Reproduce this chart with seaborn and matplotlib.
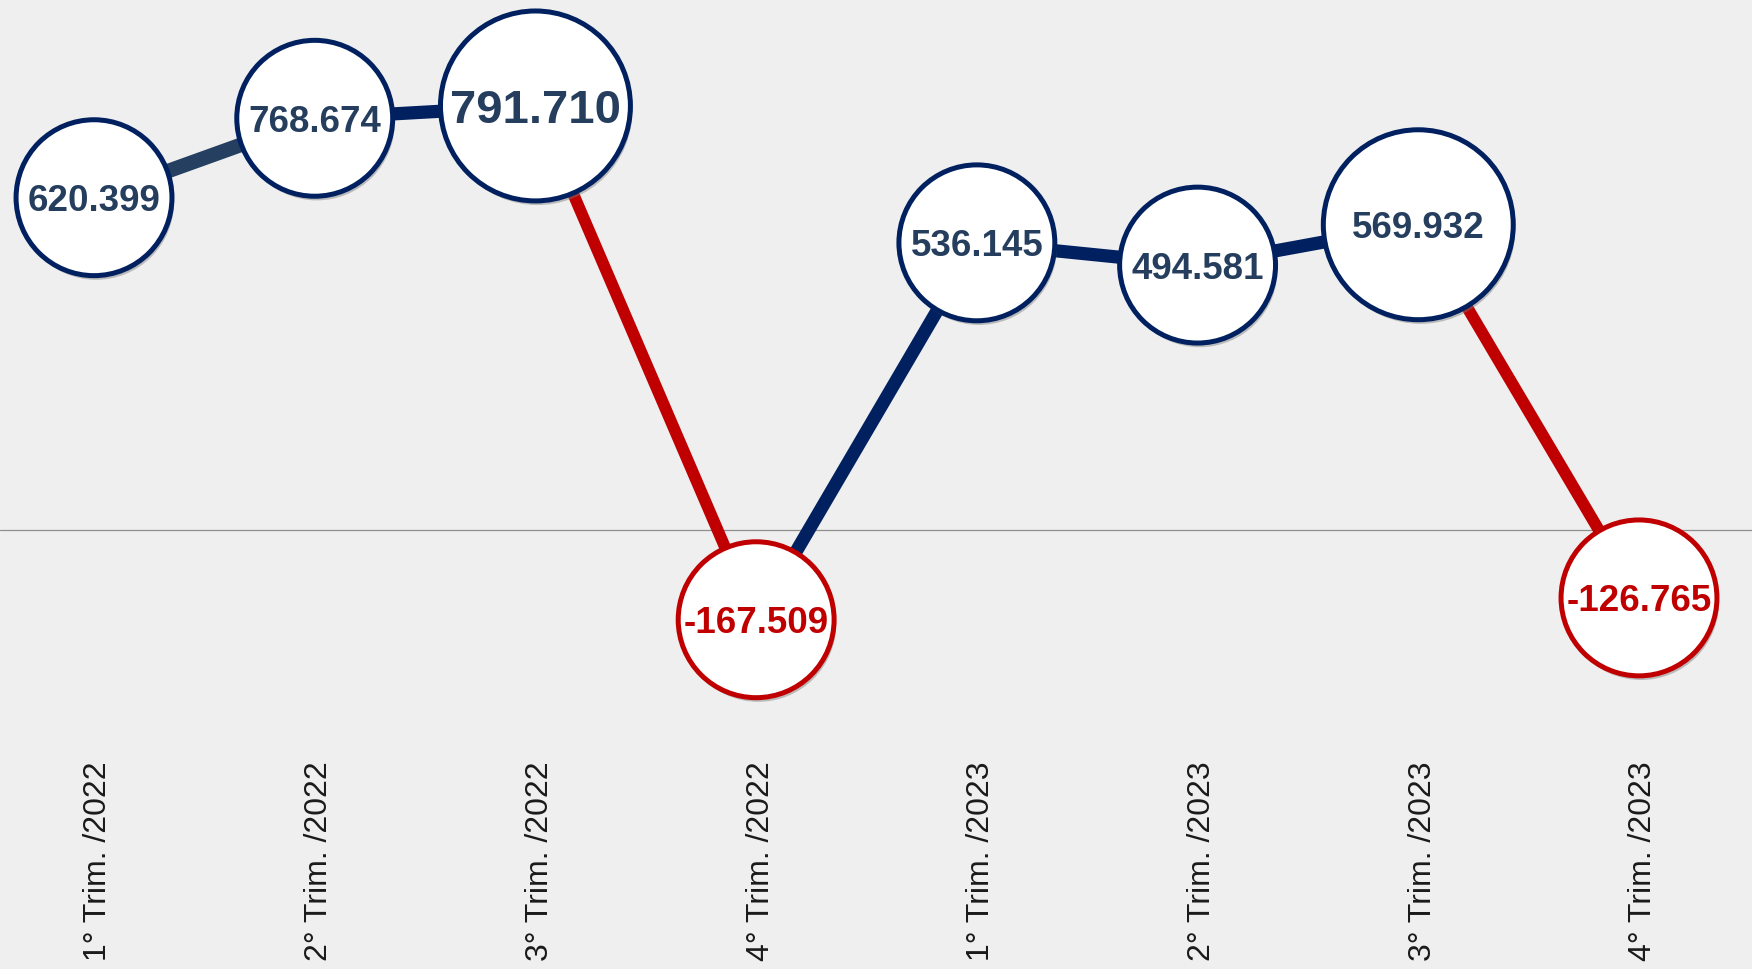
import matplotlib
matplotlib.use("Agg")
import matplotlib.pyplot as plt
import matplotlib.transforms as mtransforms
import seaborn as sns
import pandas as pd

# Dados (valores trimestrais)
trimestres = ["1° Trim. /2022", "2° Trim. /2022", "3° Trim. /2022", "4° Trim. /2022",
              "1° Trim. /2023", "2° Trim. /2023", "3° Trim. /2023", "4° Trim. /2023"]
valores = [620.399, 768.674, 791.710, -167.509, 536.145, 494.581, 569.932, -126.765]
rotulos = ["620.399", "768.674", "791.710", "-167.509", "536.145", "494.581", "569.932", "-126.765"]

# Estilo
NAVY = "#002060"
SLATE = "#243F60"
RED = "#C00000"
TXT_NAVY = "#263E5E"
BG = "#EFEFEF"

destaque = {2: 18700, 6: 18700}   # círculos maiores
tam_padrao = 12600
fonte_grande = {2: 34}

sns.set_style("white")
plt.rcParams["font.family"] = ["Liberation Sans", "DejaVu Sans"]

df = pd.DataFrame({"x": range(len(valores)), "valor": valores, "rotulo": rotulos, "trim": trimestres})

fig = plt.figure(figsize=(17.52, 9.69), dpi=100)
fig.patch.set_facecolor(BG)
ax = fig.add_axes([0, 0, 1, 1])
ax.set_facecolor(BG)

# linha do zero
ax.axhline(0, color="#8f8f8f", lw=0.9, zorder=1)

# segmentos
for i in range(len(df) - 1):
    seg = df.iloc[i:i + 2]
    if seg["valor"].iloc[1] < 0:
        cor, lw = RED, 8.5
    elif i == 0:
        cor, lw = SLATE, 10.5
    else:
        cor, lw = NAVY, 9.5
    sns.lineplot(data=seg, x="x", y="valor", color=cor, lw=lw, ax=ax, zorder=2,
                 solid_capstyle="butt")

# círculos
tamanhos = [destaque.get(i, tam_padrao) for i in range(len(df))]
bordas = [RED if v < 0 else NAVY for v in valores]
sombra = mtransforms.offset_copy(ax.transData, fig=fig, x=1.5, y=-3, units="points")
ax.scatter(df["x"], df["valor"], s=tamanhos, color="#7a7a7a", alpha=0.45,
           linewidths=0, transform=sombra, zorder=3)
sns.scatterplot(data=df, x="x", y="valor", s=tamanhos, color="white",
                edgecolor=bordas, linewidth=3.6, ax=ax, zorder=4, legend=False)

for i, row in df.iterrows():
    cor = RED if row["valor"] < 0 else TXT_NAVY
    ax.text(row["x"], row["valor"], row["rotulo"], ha="center", va="center_baseline",
            fontsize=fonte_grande.get(i, 26.5), fontweight="bold", color=cor, zorder=5)

# rótulos do eixo x (verticais, na base)
base = mtransforms.blended_transform_factory(ax.transData, ax.transAxes)
for i, t in enumerate(trimestres):
    ax.text(i + 0.02, 0.008, t, rotation=90, ha="center", va="bottom",
            fontsize=23, color="#1a1a1a", transform=base, zorder=5)

ax.set_xlim(-0.426, 7.512)
ax.set_ylim(-819.6, 989.5)
ax.set_xlabel("")
ax.set_ylabel("")
ax.set_xticks([])
ax.set_yticks([])
for s in ax.spines.values():
    s.set_visible(False)

fig.savefig("out.png", dpi=100, facecolor=BG)
